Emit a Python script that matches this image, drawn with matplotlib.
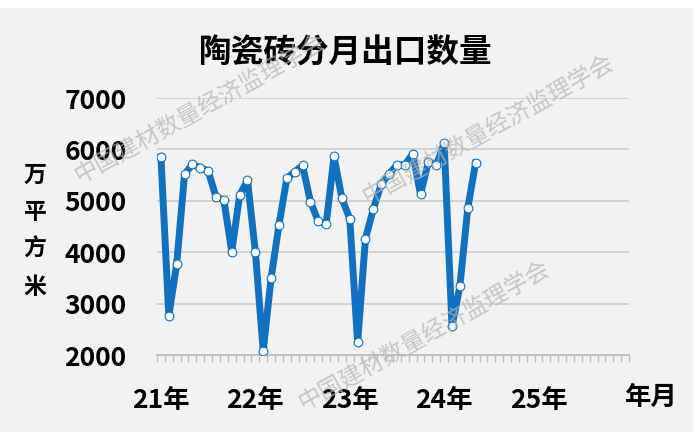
import matplotlib
matplotlib.use('Agg')
import matplotlib.pyplot as plt
from matplotlib.patches import Rectangle
import numpy as np

plt.rcParams['font.family'] = ['Noto Sans CJK SC', 'DejaVu Sans']

# monthly export volume, 10k m2, Jan 2021 - May 2024
exports_2021 = [5850, 2760, 3770, 5515, 5710, 5645, 5580, 5075, 5015, 4010, 5105, 5405]
exports_2022 = [4010, 2080, 3495, 4525, 5435, 5565, 5690, 4985, 4600, 4545, 5865, 5050]
exports_2023 = [4650, 2245, 4265, 4840, 5320, 5525, 5700, 5700, 5915, 5125, 5765, 5690]
exports_2024 = [6120, 2555, 3340, 4855, 5740]
values = exports_2021 + exports_2022 + exports_2023 + exports_2024

year_labels = ['21年', '22年', '23年', '24年', '25年']
n_months = 60
y_ticks = [2000, 3000, 4000, 5000, 6000, 7000]
watermark = '中国建材数量经济监理学会'

fig = plt.figure(figsize=(7, 4.45), dpi=100)
fig.patch.set_facecolor('white')
bg = Rectangle((0, 0.029), 0.99, 0.953, transform=fig.transFigure,
               facecolor='#f2f2f2', edgecolor='none', zorder=-5)
fig.add_artist(bg)

ax = fig.add_axes([0.2243, 0.2022, 0.6743, 0.5775])
ax.set_facecolor('none')

x = np.arange(len(values))
ax.plot(x, values, color='#1170c0', linewidth=5, marker='o', markersize=6.3,
        markerfacecolor='white', markeredgecolor='#1170c0', markeredgewidth=0.8,
        zorder=3)

ax.set_xlim(-0.5, n_months - 0.5)
ax.set_ylim(2000, 7000)
ax.set_yticks(y_ticks)
ax.set_yticklabels([str(v) for v in y_ticks], fontsize=19, fontweight='bold')
ax.grid(axis='y', color='#d0d0d0', linewidth=1.3)
ax.set_axisbelow(True)

ax.set_xticks(np.arange(0, n_months, 12))
ax.set_xticklabels(year_labels, fontsize=19, fontweight='bold')
ax.set_xticks(np.arange(-0.5, n_months, 1), minor=True)
ax.tick_params(axis='x', which='major', length=0, pad=23)
ax.tick_params(axis='x', which='minor', length=5, color='#bfbfbf', width=1)
ax.tick_params(axis='y', length=0, pad=22)

for side in ['top', 'right', 'left']:
    ax.spines[side].set_visible(False)
ax.spines['bottom'].set_color('#bfbfbf')
ax.spines['bottom'].set_linewidth(1.3)

fig.text(0.493, 0.881, '陶瓷砖分月出口数量', fontsize=23.5, fontweight='bold',
         ha='center', va='center')
fig.text(0.05, 0.481, '万\n平\n方\n米', fontsize=16.5, fontweight='bold',
         ha='center', va='center', linespacing=1.8)
fig.text(0.93, 0.107, '年月', fontsize=19, fontweight='bold', ha='center', va='center')

# watermarks
for cx, cy in [(200, 108), (488, 129), (424, 335)]:
    fig.text(cx / 700, 1 - cy / 445, watermark, fontsize=17, color='#b4b4b4',
             rotation=29, ha='center', va='center', alpha=0.7, zorder=10)

fig.savefig('out.png', dpi=100, facecolor=fig.get_facecolor())
